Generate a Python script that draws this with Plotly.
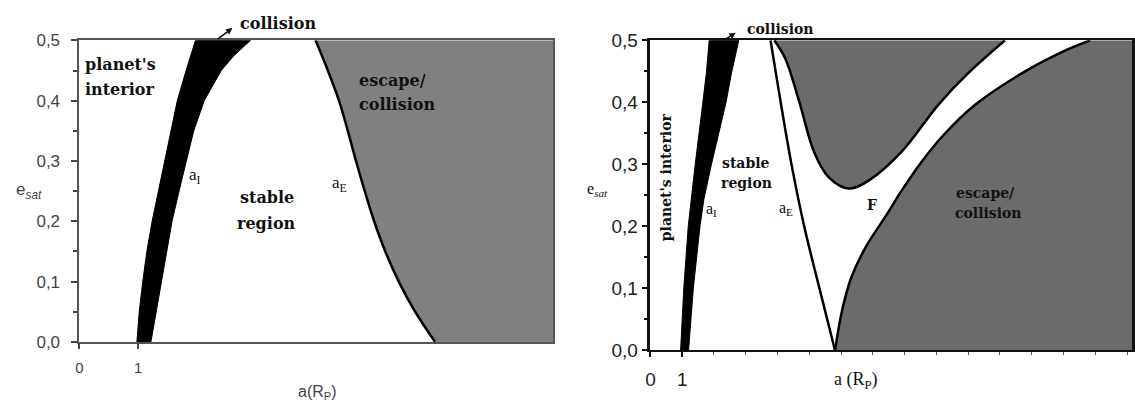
import plotly.graph_objects as go

W, H = 1135, 406

# ---------------- left panel: boundaries (a in planet radii vs eccentricity)
ecc_band_left = [0.0, 0.05, 0.1, 0.15, 0.2, 0.25, 0.3, 0.35, 0.4, 0.45, 0.475, 0.5]
aI_inner_left = [0.98, 1.02, 1.08, 1.15, 1.24, 1.35, 1.46, 1.56, 1.67, 1.82, 1.90, 1.98]
aI_outer_left = [1.22, 1.30, 1.39, 1.49, 1.58, 1.70, 1.82, 1.95, 2.13, 2.42, 2.64, 2.92]

ecc_aE_left = [0.0, 0.05, 0.1, 0.15, 0.2, 0.25, 0.3, 0.35, 0.4, 0.45, 0.5]
aE_left = [6.07, 5.73, 5.45, 5.22, 5.03, 4.87, 4.72, 4.58, 4.43, 4.24, 4.03]

# ---------------- right panel
ecc_band_right = [0.0, 0.1, 0.2, 0.243, 0.3, 0.4, 0.447, 0.5]
aI_inner_right = [0.95, 1.05, 1.19, 1.28, 1.41, 1.65, 1.76, 1.85]
aI_outer_right = [1.20, 1.35, 1.56, 1.68, 1.92, 2.38, 2.55, 2.78]

ecc_aE_right = [0.0, 0.1, 0.2, 0.3, 0.4, 0.5]
aE_right = [5.81, 5.32, 4.84, 4.44, 4.10, 3.78]

# upper unstable pocket bounded below by a U-shaped curve
pocket_a = [3.90, 4.25, 4.69, 5.15, 5.60, 6.25, 6.90, 7.90, 9.06, 10.00, 11.16]
pocket_e = [0.50, 0.47, 0.40, 0.32, 0.28, 0.261, 0.275, 0.32, 0.396, 0.447, 0.50]

# lower escape/collision boundary
outer_a = [5.81, 6.03, 6.31, 6.78, 7.41, 7.91, 8.53, 9.22, 10.22, 11.66, 13.03, 13.84]
outer_e = [0.0, 0.064, 0.116, 0.167, 0.217, 0.258, 0.304, 0.347, 0.396, 0.446, 0.483, 0.50]

ecc_ticks = [0.0, 0.1, 0.2, 0.3, 0.4, 0.5]
ecc_ticktext = ["0,0", "0,1", "0,2", "0,3", "0,4", "0,5"]
ecc_minor = [0.05, 0.15, 0.25, 0.35, 0.45]
a_ticks = [0, 1]
a_ticktext = ["0", "1"]

A_MAX_LEFT = 477 / 59
A_MAX_RIGHT = 485 / 32
E_MAX = 0.5

GRAY_LEFT = "#808080"
GRAY_RIGHT = "#6b6b6b"
SERIF = "DejaVu Serif"
SERIF_PLAIN = "Liberation Serif"
SANS = "Liberation Sans"
SMOOTH = dict(shape="spline", smoothing=1.0)

fig = go.Figure()

# left: unstable region beyond aE
fig.add_trace(go.Scatter(
    x=aE_left + [A_MAX_LEFT, A_MAX_LEFT], y=ecc_aE_left + [E_MAX, 0.0],
    fill="toself", fillcolor=GRAY_LEFT, line=dict(width=0), mode="lines",
    hoverinfo="skip", xaxis="x", yaxis="y"))
fig.add_trace(go.Scatter(
    x=aE_left, y=ecc_aE_left, mode="lines",
    line=dict(color="black", width=2.5, **SMOOTH), xaxis="x", yaxis="y"))
# left: collision band aI
fig.add_trace(go.Scatter(
    x=aI_inner_left + aI_outer_left[::-1], y=ecc_band_left + ecc_band_left[::-1],
    fill="toself", fillcolor="black", line=dict(color="black", width=1),
    mode="lines", xaxis="x", yaxis="y"))

# right: lower escape region
fig.add_trace(go.Scatter(
    x=outer_a + [A_MAX_RIGHT, A_MAX_RIGHT], y=outer_e + [E_MAX, 0.0],
    fill="toself", fillcolor=GRAY_RIGHT, line=dict(width=0), mode="lines",
    xaxis="x2", yaxis="y2"))
fig.add_trace(go.Scatter(
    x=outer_a, y=outer_e, mode="lines",
    line=dict(color="black", width=2.5, **SMOOTH), xaxis="x2", yaxis="y2"))
# right: upper pocket
fig.add_trace(go.Scatter(
    x=pocket_a, y=pocket_e, fill="toself", fillcolor=GRAY_RIGHT, mode="lines",
    line=dict(color="black", width=2.5, **SMOOTH), xaxis="x2", yaxis="y2"))
# right: aE
fig.add_trace(go.Scatter(
    x=aE_right, y=ecc_aE_right, mode="lines",
    line=dict(color="black", width=2.5, **SMOOTH), xaxis="x2", yaxis="y2"))
# right: collision band aI
fig.add_trace(go.Scatter(
    x=aI_inner_right + aI_outer_right[::-1], y=ecc_band_right + ecc_band_right[::-1],
    fill="toself", fillcolor="black", line=dict(color="black", width=1),
    mode="lines", xaxis="x2", yaxis="y2"))


def pos(px, py):
    return px / W, 1 - py / H


annotations = []


def label(text, px, py, size=16, family=SERIF, bold=True, color="#111",
          xanchor="center", angle=0):
    x, y = pos(px, py)
    if bold:
        text = "<b>" + text + "</b>"
    annotations.append(dict(
        text=text, x=x, y=y, xref="paper", yref="paper", showarrow=False,
        xanchor=xanchor, yanchor="middle", textangle=angle,
        font=dict(family=family, size=size, color=color)))


def arrow(hx, hy, tx, ty):
    x, y = pos(hx, hy)
    annotations.append(dict(
        text="", x=x, y=y, xref="paper", yref="paper", showarrow=True,
        ax=tx - hx, ay=ty - hy, arrowhead=2, arrowsize=0.8, arrowwidth=1.6,
        arrowcolor="#111"))


# left panel texts
label("collision", 235, 14, xanchor="left")
arrow(229, 19, 213, 31)
label("planet's", 79, 58, xanchor="left")
label("interior", 79, 84, xanchor="left")
label("escape/", 354, 74, xanchor="left")
label("collision", 354, 100, xanchor="left")
label("stable", 235, 198, xanchor="left")
label("region", 232, 225, xanchor="left")
label("a<sub>I</sub>", 183, 175, size=17, family=SERIF_PLAIN, bold=False,
      xanchor="left")
label("a<sub>E</sub>", 327, 183, size=17, family=SERIF_PLAIN, bold=False,
      xanchor="left")
label("e<sub><i>sat</i></sub>", 9, 191, size=17, family=SANS, bold=False,
      color="#444", xanchor="left")
label("a(R<sub>P</sub>)", 293, 403, size=16, family=SANS, bold=False,
      color="#444", xanchor="left")

# right panel texts
label("collision", 745, 20, size=14, xanchor="left")
arrow(736, 24, 723, 32)
label("planet's interior", 666, 176, size=14, angle=-90)
label("stable", 720, 161, size=14, xanchor="left")
label("region", 719, 182, size=14, xanchor="left")
label("a<sub>I</sub>", 704, 210, size=16, family=SERIF_PLAIN, bold=False,
      xanchor="left")
label("a<sub>E</sub>", 777, 209, size=16, family=SERIF_PLAIN, bold=False,
      xanchor="left")
label("F", 866, 206, size=14, xanchor="left")
label("escape/", 956, 193, size=14, xanchor="left")
label("collision", 955, 214, size=14, xanchor="left")
label("e<sub><i>sat</i></sub>", 584, 189, size=16, family=SERIF_PLAIN, bold=False,
      xanchor="left")
label("a (R<sub>P</sub>)", 833, 391, size=18, family=SERIF_PLAIN, bold=False,
      xanchor="left")

axis_common = dict(showgrid=False, zeroline=False, showline=True, mirror=True,
                   fixedrange=True)

fig.update_layout(
    width=W, height=H, autosize=False,
    margin=dict(l=0, r=0, t=0, b=0),
    paper_bgcolor="white", plot_bgcolor="white",
    showlegend=False,
    annotations=annotations,
    xaxis=dict(domain=[75 / W, 552 / W], range=[0, A_MAX_LEFT],
               tickvals=a_ticks, ticktext=a_ticktext, ticks="outside", ticklen=5,
               tickwidth=1.5, tickcolor="#444", linecolor="#555", linewidth=2,
               tickfont=dict(family=SANS, size=15, color="#444"),
               ticklabelstandoff=6, anchor="y", **axis_common),
    yaxis=dict(domain=[(H - 350) / H, (H - 32) / H], range=[0, E_MAX],
               tickvals=ecc_ticks, ticktext=ecc_ticktext, ticks="outside",
               ticklen=6, tickwidth=1.5, tickcolor="#444", linecolor="#555",
               linewidth=2, tickfont=dict(family=SANS, size=17, color="#444"),
               ticklabelstandoff=8,
               minor=dict(tickvals=ecc_minor, ticks="outside", ticklen=4,
                          tickwidth=1.5, tickcolor="#444"),
               anchor="x", **axis_common),
    xaxis2=dict(domain=[650 / W, 1.0], range=[0, A_MAX_RIGHT],
                tickvals=a_ticks, ticktext=a_ticktext, ticks="outside", ticklen=5,
                tickwidth=2, tickcolor="#111", linecolor="#111", linewidth=2,
                tickfont=dict(family=SANS, size=19, color="#222"),
                ticklabelstandoff=6,
                minor=dict(dtick=1, tick0=0, ticks="outside", ticklen=3,
                           tickwidth=1, tickcolor="#555"),
                anchor="y2", **axis_common),
    yaxis2=dict(domain=[(H - 359) / H, (H - 32) / H], range=[0, E_MAX],
                tickvals=ecc_ticks, ticktext=ecc_ticktext, ticks="outside",
                ticklen=6, tickwidth=2, tickcolor="#111", linecolor="#111",
                linewidth=2.5, tickfont=dict(family=SANS, size=19, color="#222"),
                minor=dict(tickvals=ecc_minor, ticks="outside", ticklen=4,
                           tickwidth=1.5, tickcolor="#111"),
                anchor="x2", **axis_common),
)

fig.write_html("out.html")
